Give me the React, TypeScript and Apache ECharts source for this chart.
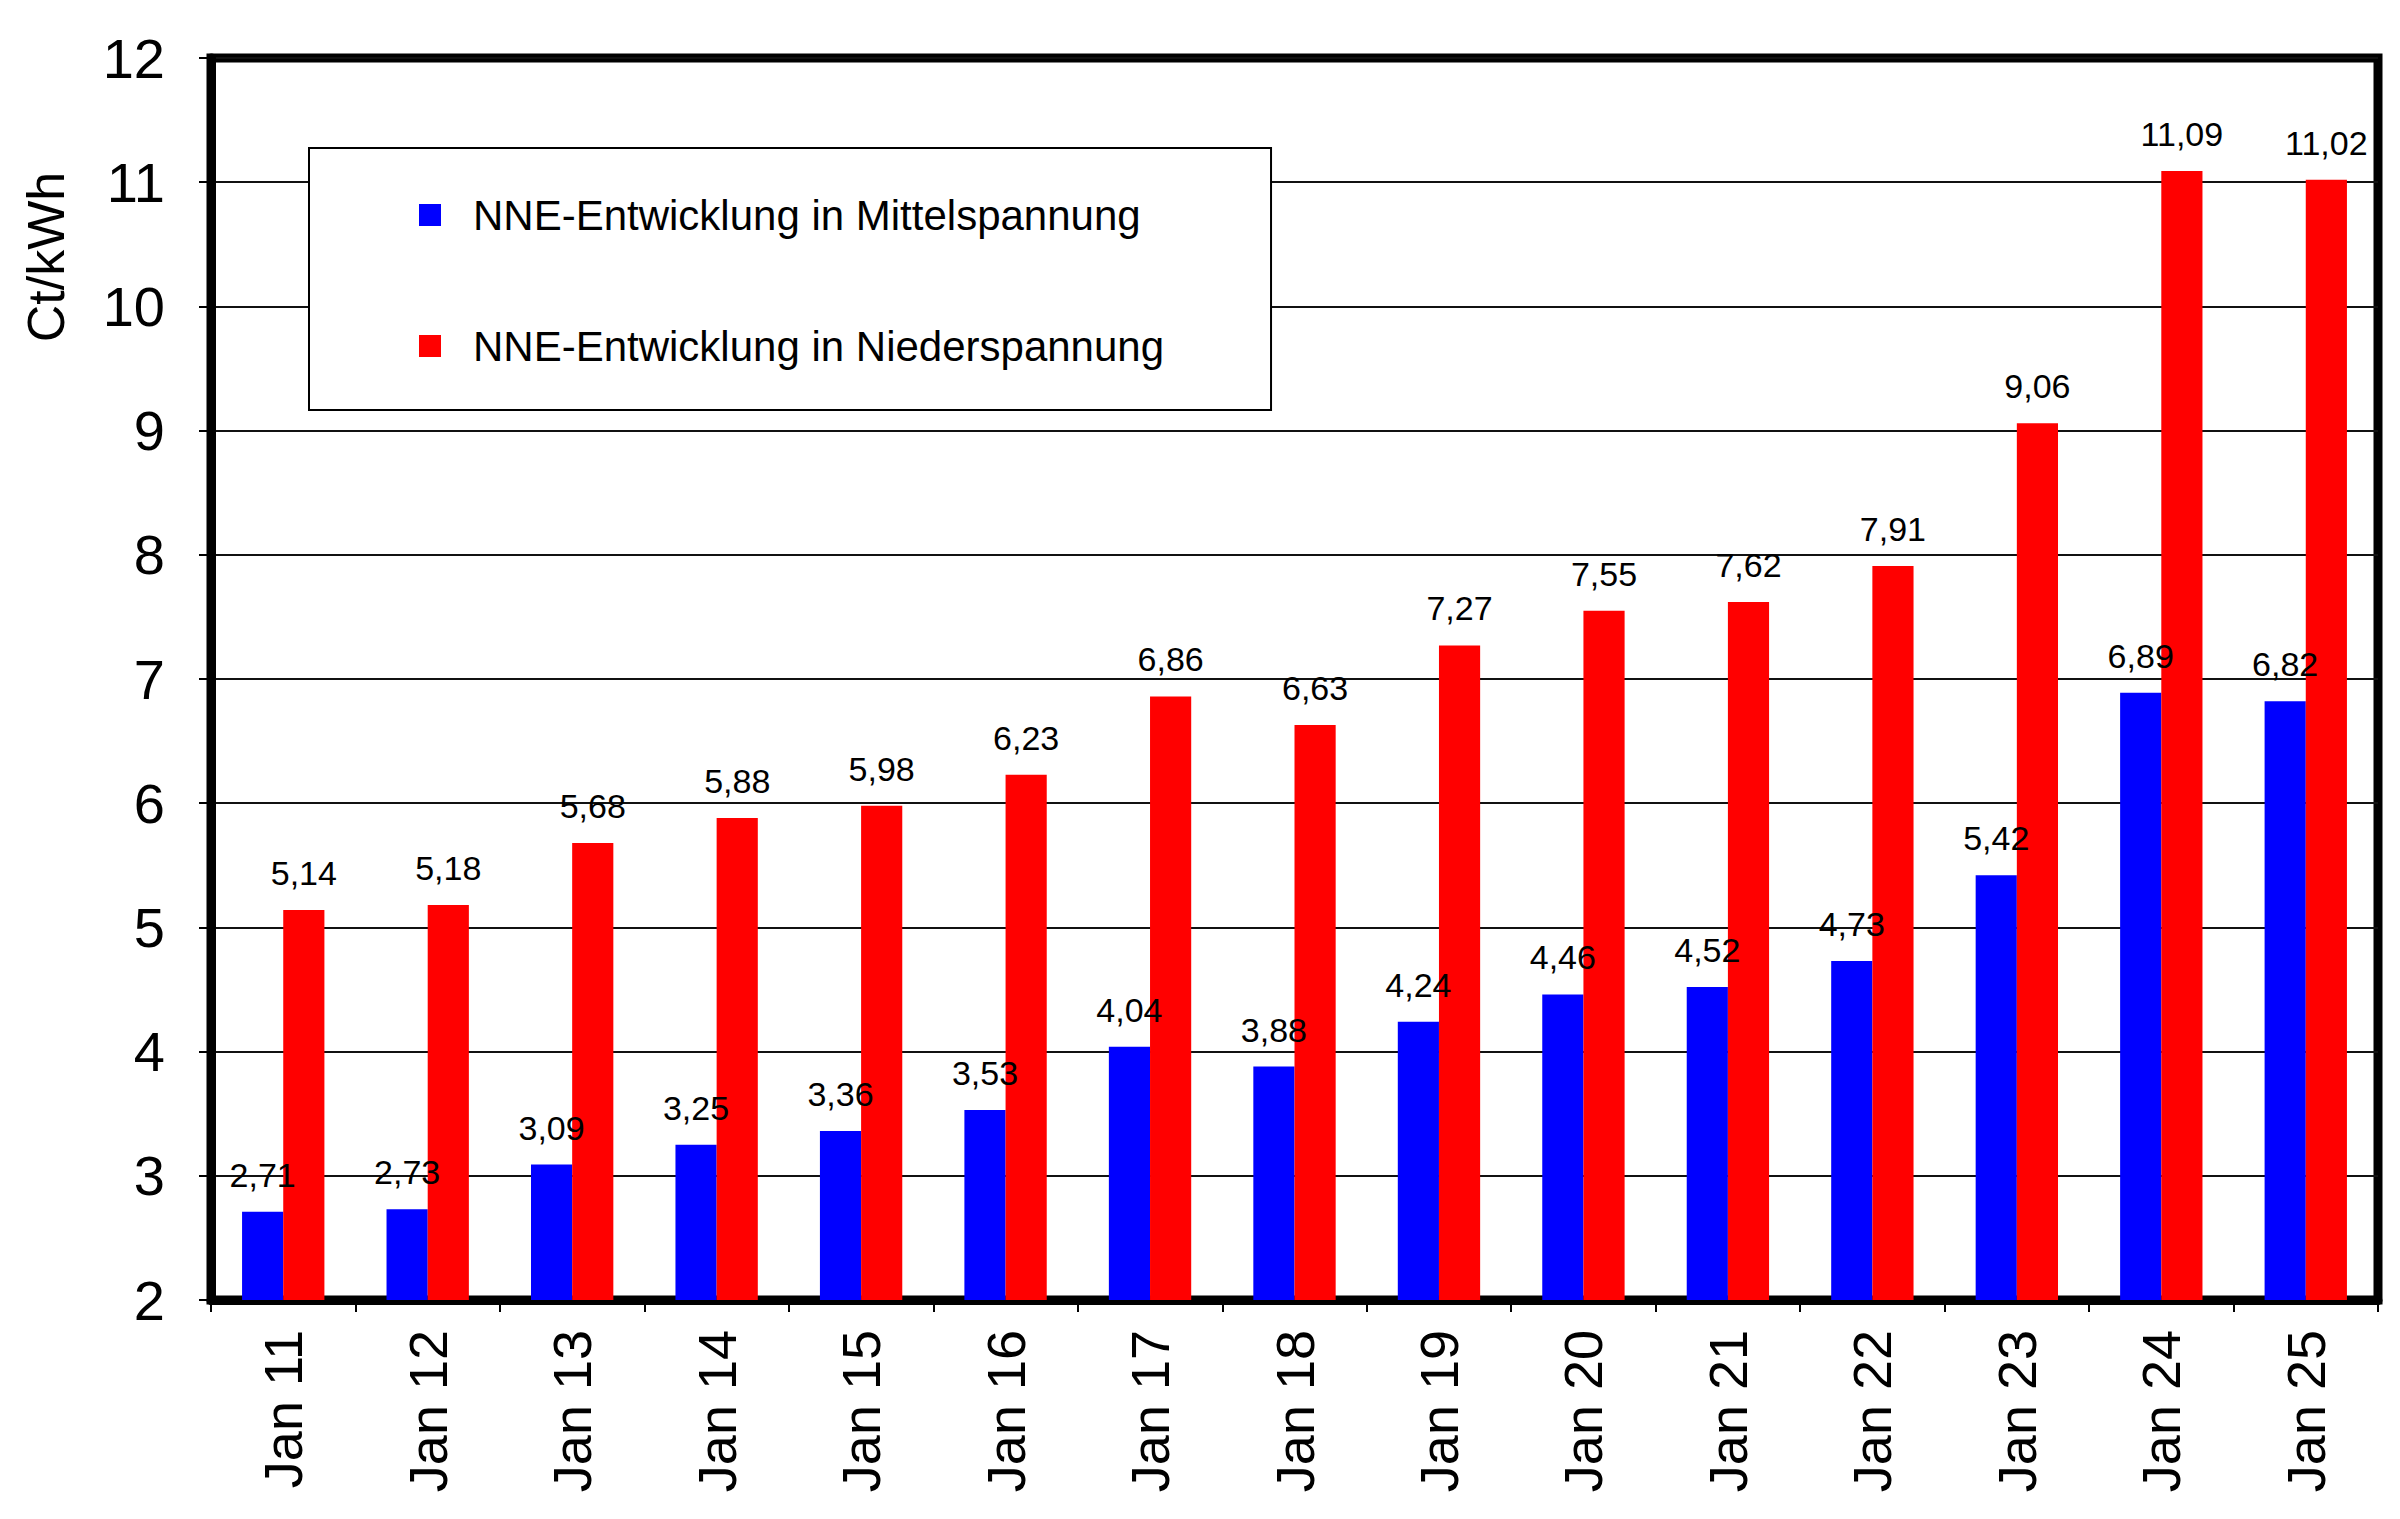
import React, { useEffect, useRef } from "react";
import * as echarts from "echarts";

const categories = ["Jan 11", "Jan 12", "Jan 13", "Jan 14", "Jan 15", "Jan 16", "Jan 17", "Jan 18", "Jan 19", "Jan 20", "Jan 21", "Jan 22", "Jan 23", "Jan 24", "Jan 25"];
const mittelspannung = [2.71, 2.73, 3.09, 3.25, 3.36, 3.53, 4.04, 3.88, 4.24, 4.46, 4.52, 4.73, 5.42, 6.89, 6.82];
const niederspannung = [5.14, 5.18, 5.68, 5.88, 5.98, 6.23, 6.86, 6.63, 7.27, 7.55, 7.62, 7.91, 9.06, 11.09, 11.02];
const seriesNames = ["NNE-Entwicklung in Mittelspannung", "NNE-Entwicklung in Niederspannung"];
const yAxisTitle = "Ct/kWh";

const FONT = "'Liberation Sans', Arial, sans-serif";

export default function App() {
  const ref = useRef<HTMLDivElement>(null);
  useEffect(() => {
    if (!ref.current) return;
    const chart = echarts.init(ref.current, null, { renderer: "svg" });
    const fmt = (p: any) => Number(p.value).toFixed(2).replace(".", ",");
    const labelCfg = {
      show: true,
      position: "top",
      distance: 20,
      formatter: fmt,
      fontSize: 34,
      color: "#000",
      fontFamily: FONT,
    };
    chart.setOption({
      animation: false,
      backgroundColor: "#fff",
      textStyle: { fontFamily: FONT },
      grid: {
        left: 211,
        right: 22,
        top: 58,
        bottom: 219,
        show: true,
        borderColor: "#000",
        borderWidth: 9,
        containLabel: false,
      },
      legend: {
        orient: "vertical",
        left: 309,
        top: 148,
        data: seriesNames,
        icon: "rect",
        itemWidth: 22,
        itemHeight: 22,
        itemGap: 89,
        padding: [46, 107, 43, 110],
        borderColor: "#000",
        borderWidth: 2,
        backgroundColor: "#fff",
        textStyle: { fontSize: 42, color: "#000", fontFamily: FONT, padding: [0, 0, 0, 27] },
      },
      graphic: [
        {
          type: "text",
          x: 46,
          y: 257,
          rotation: Math.PI / 2,
          style: {
            text: yAxisTitle,
            fontSize: 52,
            fontFamily: FONT,
            fill: "#000",
            align: "center",
            verticalAlign: "middle",
          },
        },
      ],
      xAxis: {
        type: "category",
        data: categories,
        axisLine: { show: true, lineStyle: { color: "#000", width: 9 } },
        axisTick: { show: true, alignWithLabel: false, interval: 0, length: 12, lineStyle: { color: "#000", width: 2 } },
        axisLabel: { interval: 0, rotate: 90, fontSize: 54, color: "#000", margin: 30, fontFamily: FONT },
        splitLine: { show: false },
      },
      yAxis: {
        type: "value",
        min: 2,
        max: 12,
        interval: 1,
        axisLine: { show: true, lineStyle: { color: "#000", width: 9 } },
        axisTick: { show: true, length: 12, lineStyle: { color: "#000", width: 2 } },
        axisLabel: { fontSize: 56, color: "#000", margin: 46, fontFamily: FONT },
        splitLine: { show: true, lineStyle: { color: "#111", width: 2 } },
      },
      series: [
        {
          name: seriesNames[0],
          type: "bar",
          data: mittelspannung,
          itemStyle: { color: "#0000ff" },
          barGap: "0%",
          barCategoryGap: "43%",
          label: labelCfg,
        },
        {
          name: seriesNames[1],
          type: "bar",
          data: niederspannung,
          itemStyle: { color: "#ff0000" },
          barGap: "0%",
          barCategoryGap: "43%",
          label: labelCfg,
        },
      ],
    });
    return () => chart.dispose();
  }, []);
  return (
    <div
      ref={ref}
      style={{ position: "fixed", left: 0, top: 0, width: 2400, height: 1519, background: "#fff" }}
    />
  );
}
